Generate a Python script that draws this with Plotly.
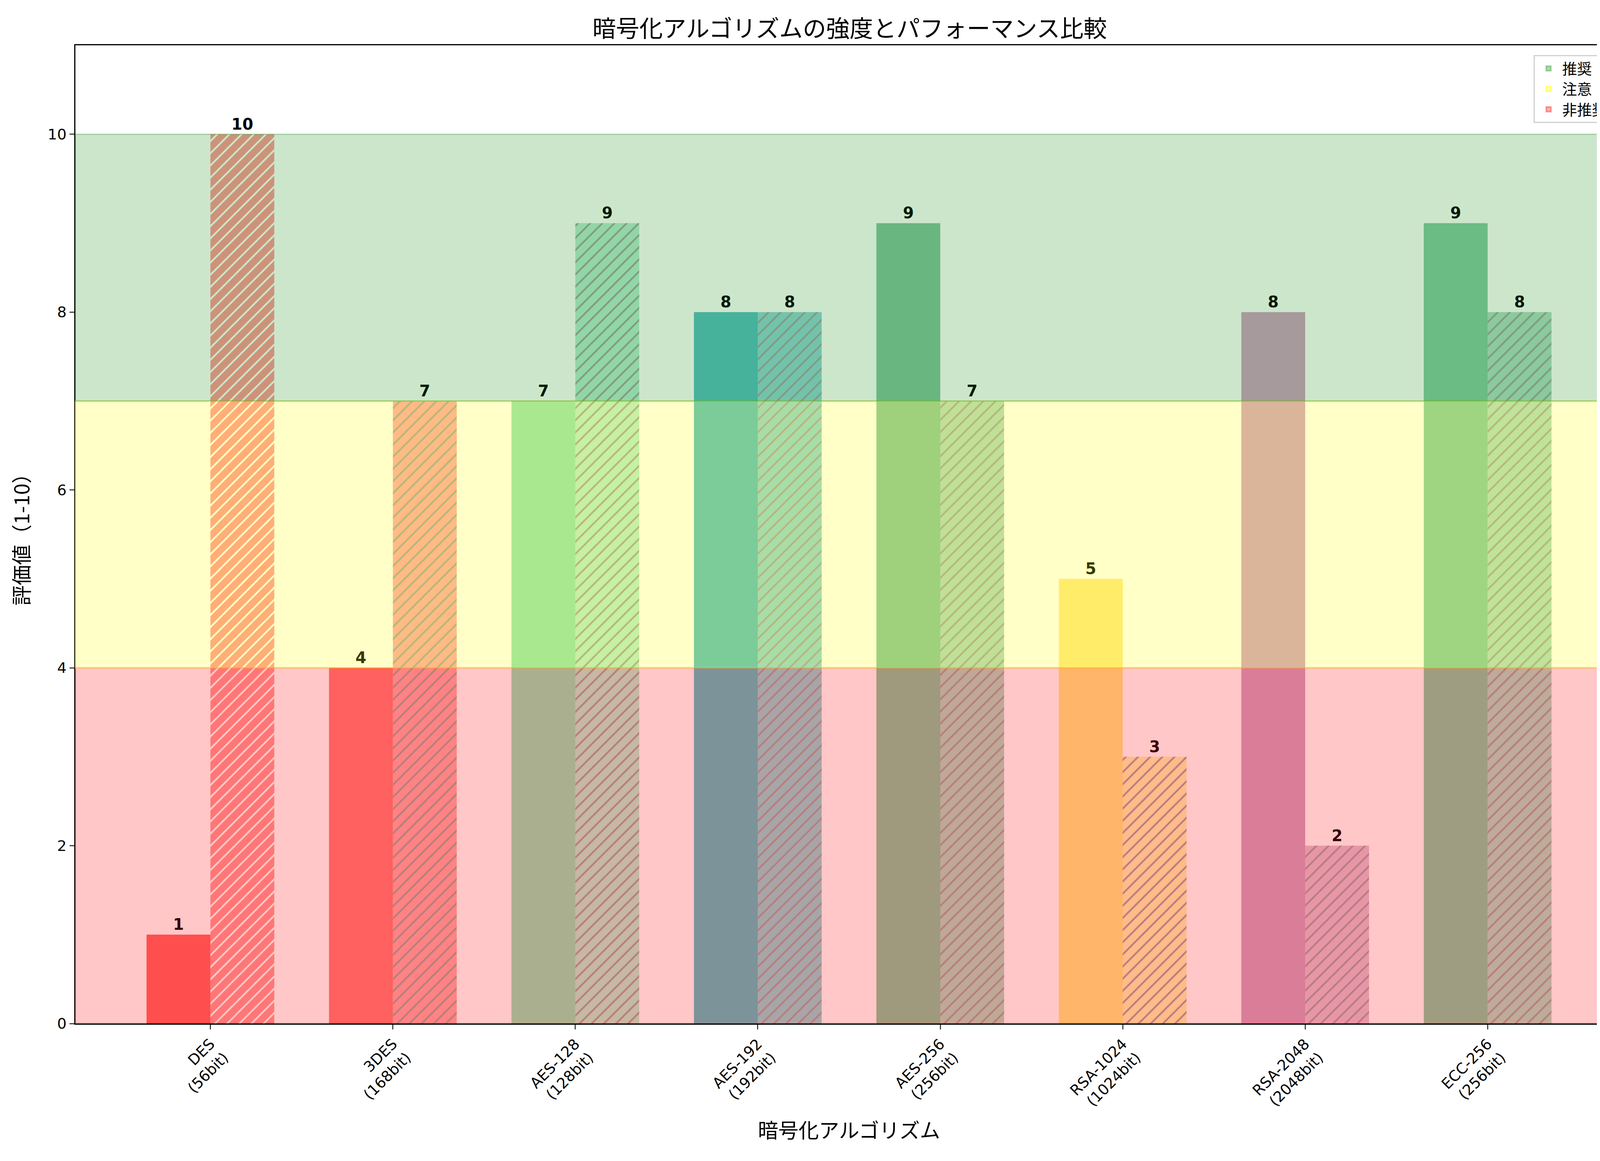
import plotly.graph_objects as go

algorithms = ["DES<br>(56bit)", "3DES<br>(168bit)", "AES-128<br>(128bit)", "AES-192<br>(192bit)",
              "AES-256<br>(256bit)", "RSA-1024<br>(1024bit)", "RSA-2048<br>(2048bit)", "ECC-256<br>(256bit)"]
strength = [1, 4, 7, 8, 9, 5, 8, 9]
performance = [10, 7, 9, 8, 7, 3, 2, 8]
bar_colors = ["#ff3030", "#ff5050", "#6fd8a0", "#20a8b0", "#5cb080", "#ffe060", "#c080b0", "#5cb888"]

bands = [(0, 4, "rgba(255,0,0,0.22)", "rgba(255,0,0,0.35)", "非推奨"),
         (4, 7, "rgba(255,255,0,0.22)", "rgba(255,255,0,0.45)", "注意"),
         (7, 10, "rgba(0,128,0,0.2)", "rgba(0,128,0,0.3)", "推奨")]
legend_fill = {"非推奨": "rgba(255,0,0,0.3)", "注意": "rgba(255,255,0,0.3)", "推奨": "rgba(0,128,0,0.3)"}

x = list(range(len(algorithms)))
w = 0.35
font = "Noto Sans CJK JP"

fig = go.Figure()
fig.add_trace(go.Bar(
    x=[i - w / 2 for i in x], y=strength, width=w,
    marker=dict(color=bar_colors, opacity=0.75, line_width=0),
    text=[f"<b>{v}</b>" for v in strength], textposition="outside",
    textfont=dict(size=40, color="black", family="DejaVu Sans"), cliponaxis=False, showlegend=False))
fig.add_trace(go.Bar(
    x=[i + w / 2 for i in x], y=performance, width=w,
    marker=dict(color=bar_colors, opacity=0.5, line=dict(color="black", width=0),
                pattern=dict(shape="/", fgcolor="black", size=22, solidity=0.2, fgopacity=1)),
    text=[f"<b>{v}</b>" for v in performance], textposition="outside",
    textfont=dict(size=40, color="black", family="DejaVu Sans"), cliponaxis=False, showlegend=False))

for y0, y1, fill, edge, name in bands:
    fig.add_shape(type="rect", xref="paper", x0=0, x1=1, y0=y0, y1=y1,
                  fillcolor=fill, line=dict(color=edge, width=3), layer="above")

for y0, y1, fill, edge, name in reversed(bands):
    fig.add_trace(go.Bar(x=[None], y=[None], name=name,
                         marker=dict(color=legend_fill[name], line=dict(color=edge, width=4))))

fig.update_layout(
    width=4168, height=2973, barmode="overlay",
    plot_bgcolor="white", paper_bgcolor="white",
    font=dict(family=font, size=40, color="black"),
    title=dict(text="暗号化アルゴリズムの強度とパフォーマンス比較", x=0.52, xanchor="center",
               y=0.985, font=dict(size=60)),
    margin=dict(l=185, r=22, t=108, b=360),
    legend=dict(x=0.992, y=0.99, xanchor="right", yanchor="top", bordercolor="#d0d0d0",
                borderwidth=3, bgcolor="rgba(255,255,255,0.9)", font=dict(size=38),
                itemwidth=60, tracegroupgap=10),
    xaxis=dict(tickvals=x, ticktext=algorithms, tickangle=-45, range=[-0.74, 7.74],
               showline=True, linecolor="black", linewidth=3, mirror=True, ticks="outside",
               ticklen=12, tickwidth=3, tickfont=dict(family="DejaVu Sans", size=38),
               title=dict(text="暗号化アルゴリズム", font=dict(size=52), standoff=30)),
    yaxis=dict(range=[0, 11], tickvals=[0, 2, 4, 6, 8, 10], showgrid=False,
               showline=True, linecolor="black", linewidth=3, mirror=True, ticks="outside",
               ticklen=12, tickwidth=3, tickfont=dict(family="DejaVu Sans", size=38),
               title=dict(text="評価値（1-10）", font=dict(size=52), standoff=30)),
)

fig.write_html("out.html")
